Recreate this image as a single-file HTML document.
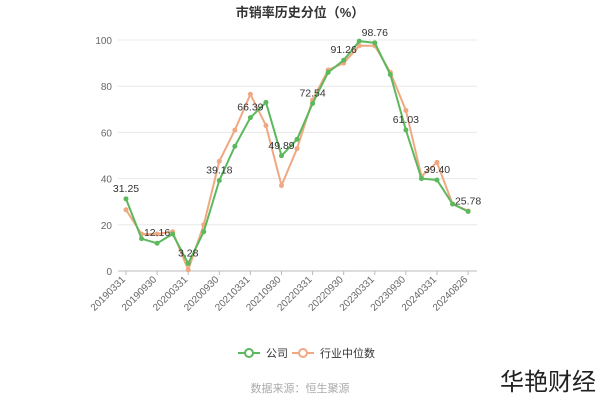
<!DOCTYPE html>
<html><head><meta charset="utf-8"><style>
body{margin:0;background:#fff;}
svg{display:block;font-family:"Liberation Sans","Noto Sans CJK SC",sans-serif;}
</style></head><body>
<svg id="c" width="600" height="400" xmlns="http://www.w3.org/2000/svg">
<text x="300" y="17" text-anchor="middle" font-size="13" font-weight="bold" fill="#333">市销率历史分位（%）</text>
<g id="grid"></g>
<g id="lines"></g>
<g font-size="11" fill="#333">
</g>
<g transform="translate(246,353)">
<line x1="-8" y1="0" x2="14" y2="0" stroke="#5cb85c" stroke-width="2"/>
<circle cx="3" cy="0" r="4" fill="#fff" stroke="#5cb85c" stroke-width="2"/>
<text x="20" y="4" font-size="11" fill="#333">公司</text>
</g>
<g transform="translate(300,353)">
<line x1="-8" y1="0" x2="14" y2="0" stroke="#f0a882" stroke-width="2"/>
<circle cx="3" cy="0" r="4" fill="#fff" stroke="#f0a882" stroke-width="2"/>
<text x="20" y="4" font-size="11" fill="#333">行业中位数</text>
</g>
<text x="300" y="392" text-anchor="middle" font-size="11" fill="#aaa">数据来源：恒生聚源</text>
<text x="548" y="390" text-anchor="middle" font-size="24" fill="#222">华艳财经</text>
</svg>
<script>
var ns="http://www.w3.org/2000/svg",svg=document.getElementById('c');
function el(t,a,p,txt){var e=document.createElementNS(ns,t);for(var k in a)e.setAttribute(k,a[k]);if(txt!=null)e.textContent=txt;(p||svg).appendChild(e);return e;}
var g=document.getElementById('grid'),L=document.getElementById('lines');
function Y(v){return 271-v*2.31;}
function X(i){return 126+i*15.55;}
for(var v=0;v<=100;v+=20){el('line',{x1:118,x2:477,y1:Y(v),y2:Y(v),stroke:v?'#e8e8e8':'#bbb','stroke-width':1},g);
el('text',{x:112,y:Y(v)+4,'text-anchor':'end','font-size':10,fill:'#666'},g,v);}
var labs=['20190331','20190930','20200331','20200930','20210331','20210930','20220331','20220930','20230331','20230930','20240331','20240826'];
labs.forEach(function(s,k){var x=X(k*2);el('line',{x1:x,x2:x,y1:271,y2:275,stroke:'#bbb'},g);
el('text',{x:x,y:280,'text-anchor':'end','font-size':10,fill:'#666',transform:'rotate(-45 '+x+' 280)'},g,s);});
var gr=[31.25,14,12,16,3.28,17,39.18,54,66.39,73,49.89,57,72.54,86,91.26,99.5,98.76,85,61.03,40,39.4,29,25.78];
var or=[26.5,16,16,17,0.5,20,47.5,61,76.5,63,37,53,74,87,90,97.5,97.5,86,69.5,41,47,29,26];
[[or,'#f0a882'],[gr,'#5cb85c']].forEach(function(s){var d=s[0].map(function(v,i){return X(i)+','+Y(v)}).join(' ');
el('polyline',{points:d,fill:'none',stroke:s[1],'stroke-width':2},L);
s[0].forEach(function(v,i){el('circle',{cx:X(i),cy:Y(v),r:2.5,fill:s[1]},L);});});
[[0,'31.25'],[2,'12.16'],[4,'3.28'],[6,'39.18'],[8,'66.39'],[10,'49.89'],[12,'72.54'],[14,'91.26'],[16,'98.76'],[18,'61.03'],[20,'39.40'],[22,'25.78']].forEach(function(p){
var i=p[0],v=parseFloat(p[1]);el('text',{x:X(i),y:Y(v)-7,'text-anchor':'middle','font-size':10.5,fill:'#333'},svg,p[1]);});
</script>
</body></html>
